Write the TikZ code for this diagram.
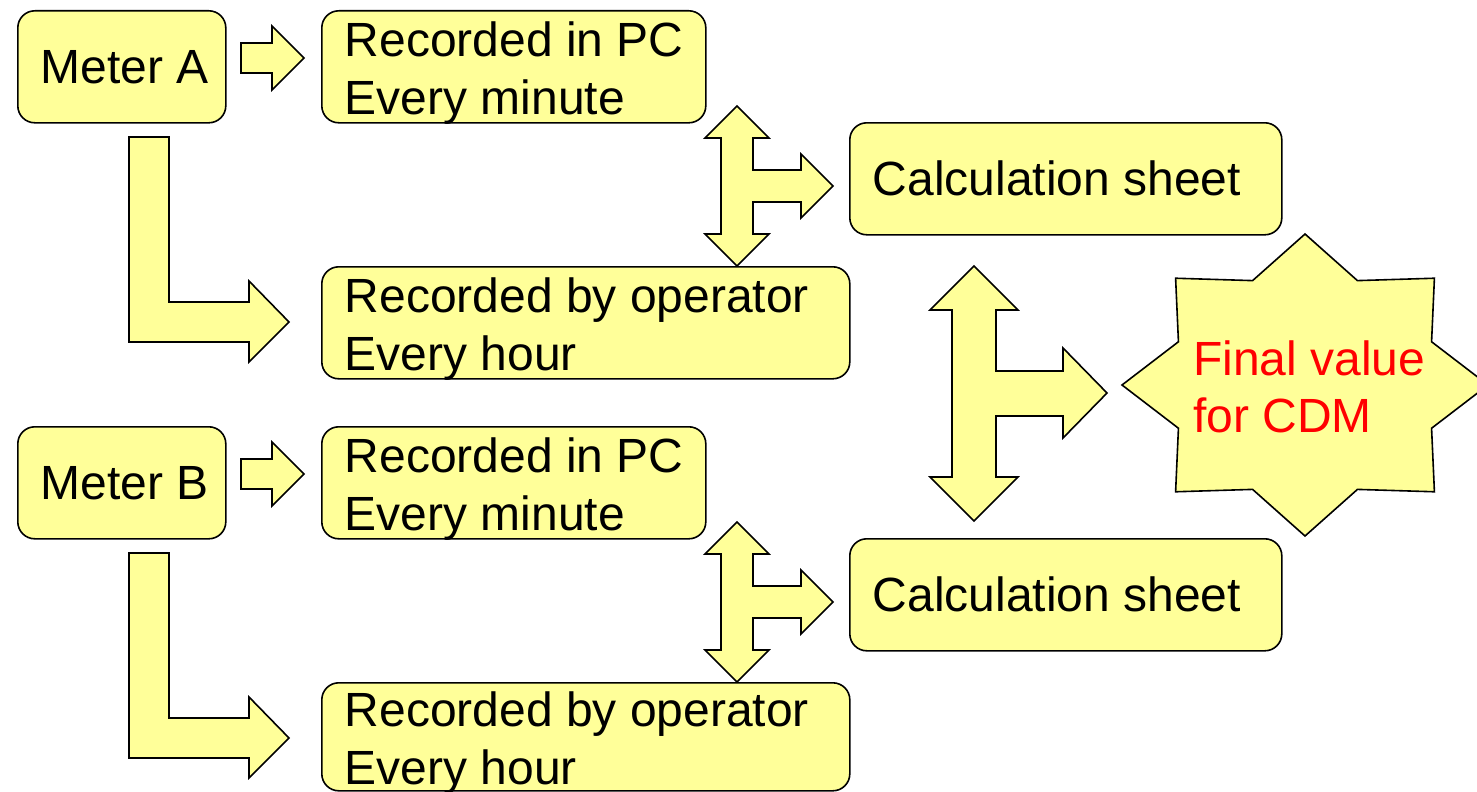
\documentclass[tikz,border=0pt]{standalone}
\usepackage{fontspec}
\setmainfont{Liberation Sans}
\definecolor{boxfill}{HTML}{FFFF99}

% text of a card: left inset, then the words
\newcommand\cardtext[2]{\makebox[#1][l]{\hspace*{23pt}#2}}
% two lines, first baseline raised above the node centre
\newcommand\twol[2]{\raisebox{10pt}[0pt][0pt]{\begin{tabular}[t]{@{}l@{}}#1\\#2\end{tabular}}}

\tikzset{
  card/.style={draw=black, line width=1.6pt, fill=boxfill, rounded corners=17pt,
    inner sep=0pt, anchor=north west, font=\fontsize{48pt}{57.6pt}\selectfont},
  blockarrow/.style={draw=black, line width=1.6pt, fill=boxfill, line join=miter},
}

% one meter with its two records and its calculation sheet
\newcommand\meterrow[4]{%
\begin{scope}[shift={(0,#3)}]
  \node[card, minimum width=208pt, minimum height=112pt] (meter#1) at (17,10)
    {\cardtext{208pt}{Meter #2}};
  \node[card, minimum width=384pt, minimum height=112pt] (pc#1) at (321,10)
    {\cardtext{384pt}{\twol{Recorded in PC}{Every minute}}};
  \node[card, minimum width=528pt, minimum height=#4] (op#1) at (321,266)
    {\cardtext{528pt}{\twol{Recorded by operator}{Every hour}}};
  \node[card, minimum width=432pt, minimum height=112pt] (calc#1) at (849,122)
    {\cardtext{432pt}{Calculation sheet}};
  % meter -> PC
  \draw[blockarrow] (241,43) -- (272,43) -- (272,26) -- (304,58) -- (272,90)
    -- (272,73) -- (241,73) -- cycle;
  % meter -> operator (bent)
  \draw[blockarrow] (129,137) -- (169,137) -- (169,302) -- (249,302) -- (249,281)
    -- (289,322) -- (249,362) -- (249,342) -- (129,342) -- cycle;
  % PC <-> operator, -> calculation sheet
  \draw[blockarrow] (737,106) -- (769,138) -- (753,138) -- (753,170) -- (801,170)
    -- (801,154) -- (833,186) -- (801,218) -- (801,202) -- (753,202) -- (753,234)
    -- (769,234) -- (737,266) -- (705,234) -- (721,234) -- (721,138) -- (705,138)
    -- cycle;
\end{scope}}

\begin{document}
\begin{tikzpicture}[x=1pt,y=-1pt]
  \useasboundingbox (0,0) rectangle (1477,792);
  \meterrow{A}{A}{0}{112pt}
  \meterrow{B}{B}{416}{108pt}

  % sheet A <-> sheet B, -> final value
  \draw[blockarrow] (974,266) -- (1018,310) -- (996,310) -- (996,371) -- (1063,371)
    -- (1063,348) -- (1107,393) -- (1063,438) -- (1063,416) -- (996,416) -- (996,477)
    -- (1018,477) -- (974,521) -- (930,477) -- (952,477) -- (952,310) -- (930,310)
    -- cycle;

  % eight-pointed seal
  \begin{scope}[shift={(1305,385)}]
    \draw[blockarrow] (0:183 and 151)
      \foreach \a in {0,45,...,270}{ -- ({\a+22.5}:137 and 113) -- ({\a+45}:183 and 151)}
      -- (337.5:137 and 113) -- cycle;
  \end{scope}
  \node[anchor=west, inner sep=0pt, text=red, font=\fontsize{48pt}{57.6pt}\selectfont]
    (final) at (1193,385) {\twol{Final value}{for CDM}};
\end{tikzpicture}
\end{document}
